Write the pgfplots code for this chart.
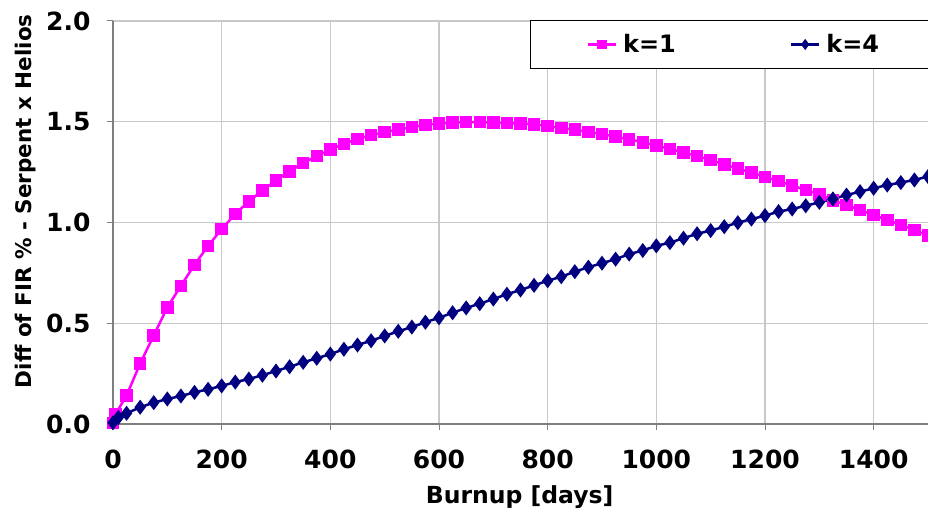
\documentclass[border=0pt]{standalone}
\usepackage{fontspec}
\setmainfont{DejaVu Sans}
\usepackage{pgfplots}
\pgfplotsset{compat=1.18}
\definecolor{kone}{HTML}{FF00FF}
\definecolor{kfour}{HTML}{000080}
\definecolor{gridgray}{HTML}{C8C8C8}
\definecolor{axisgray}{HTML}{7F7F7F}
\newcommand{\tickfont}{\fontsize{25}{29}\selectfont\bfseries}
\newcommand{\xlabfont}{\fontsize{23.5}{28}\selectfont\bfseries}
\newcommand{\ylabfont}{\fontsize{21.5}{26}\selectfont\bfseries}
\newcommand{\legfont}{\fontsize{24}{28}\selectfont\bfseries}
\begin{document}
\begin{tikzpicture}
\begin{axis}[
    name=ax,
    scale only axis,
    width=815pt, height=403pt,
    xmin=0, xmax=1500,
    ymin=0, ymax=2,
    xtick={0,200,...,1400},
    ytick={0,0.5,1,1.5,2},
    yticklabel style={/pgf/number format/fixed, /pgf/number format/fixed zerofill,
        /pgf/number format/precision=1, xshift=-13pt},
    scaled ticks=false,
    /pgf/number format/assume math mode=true,
    /pgf/number format/1000 sep={},
    axis lines*=left,
    axis line style={axisgray, line width=1.5pt},
    tick align=outside,
    major tick length=6pt,
    tick style={axisgray, line width=1pt},
    grid=major,
    major grid style={gridgray, line width=1.2pt},
    tick label style={font=\tickfont},
    xticklabel style={yshift=-16pt},
    xlabel={Burnup [days]},
    ylabel={Diff of FIR \% - Serpent x Helios},
    xlabel style={font=\xlabfont, at={(axis description cs:0.499,-0.181)}, anchor=center},
    ylabel style={font=\ylabfont, at={(axis description cs:-0.107,0.553)}, anchor=center},
    legend columns=2,
    legend style={at={(axis description cs:0.5117,1)}, anchor=north west,
        yshift=1pt, draw=black, line width=1.2pt, font=\legfont,
        inner xsep=56pt, inner ysep=12pt,
        /tikz/every even column/.append style={column sep=112pt}},
    legend image code/.code={
        \draw[#1, mark size=3.5pt, mark repeat=2, mark phase=2]
            plot coordinates {(0pt,0pt) (14pt,0pt) (28pt,0pt)};
        \path (32pt,0pt);
    },
]
\addplot[kone, line width=2.5pt, mark=square*, mark size=5pt] coordinates {
(0,0.005) (5,0.05) (25,0.142) (50,0.300) (75,0.440) (100,0.579)
(125,0.686) (150,0.790) (175,0.884) (200,0.967) (225,1.042) (250,1.105)
(275,1.159) (300,1.209) (325,1.254) (350,1.296) (375,1.329) (400,1.362)
(425,1.390) (450,1.415) (475,1.433) (500,1.448) (525,1.462) (550,1.473)
(575,1.485) (600,1.491) (625,1.496) (650,1.498) (675,1.498) (700,1.496)
(725,1.494) (750,1.491) (775,1.487) (800,1.479) (825,1.469) (850,1.461)
(875,1.449) (900,1.439) (925,1.426) (950,1.413) (975,1.398) (1000,1.383)
(1025,1.365) (1050,1.348) (1075,1.330) (1100,1.310) (1125,1.288) (1150,1.267)
(1175,1.248) (1200,1.226) (1225,1.205) (1250,1.184) (1275,1.161) (1300,1.140)
(1325,1.110) (1350,1.087) (1375,1.062) (1400,1.037) (1425,1.012) (1450,0.988)
(1475,0.963) (1500,0.935)
};
\addlegendentry{k=1}
\addplot[kfour, line width=2.5pt, mark=diamond*, mark size=5.5pt] coordinates {
(0,0.006) (10,0.033) (25,0.053) (50,0.083) (75,0.106) (100,0.124)
(125,0.139) (150,0.157) (175,0.172) (200,0.189) (225,0.208) (250,0.223)
(275,0.242) (300,0.263) (325,0.284) (350,0.306) (375,0.326) (400,0.347)
(425,0.371) (450,0.392) (475,0.413) (500,0.437) (525,0.460) (550,0.481)
(575,0.505) (600,0.527) (625,0.552) (650,0.576) (675,0.597) (700,0.620)
(725,0.644) (750,0.665) (775,0.688) (800,0.711) (825,0.731) (850,0.756)
(875,0.778) (900,0.798) (925,0.818) (950,0.843) (975,0.861) (1000,0.884)
(1025,0.900) (1050,0.922) (1075,0.944) (1100,0.960) (1125,0.979) (1150,0.999)
(1175,1.017) (1200,1.034) (1225,1.054) (1250,1.067) (1275,1.083) (1300,1.100)
(1325,1.117) (1350,1.136) (1375,1.153) (1400,1.170) (1425,1.186) (1450,1.198)
(1475,1.211) (1500,1.228)
};
\addlegendentry{k=4}
\end{axis}
\pgfresetboundingbox
\path[use as bounding box] ([shift={(-113pt,-90pt)}]ax.south west) rectangle ([shift={(0pt,21pt)}]ax.north east);
\end{tikzpicture}
\end{document}
